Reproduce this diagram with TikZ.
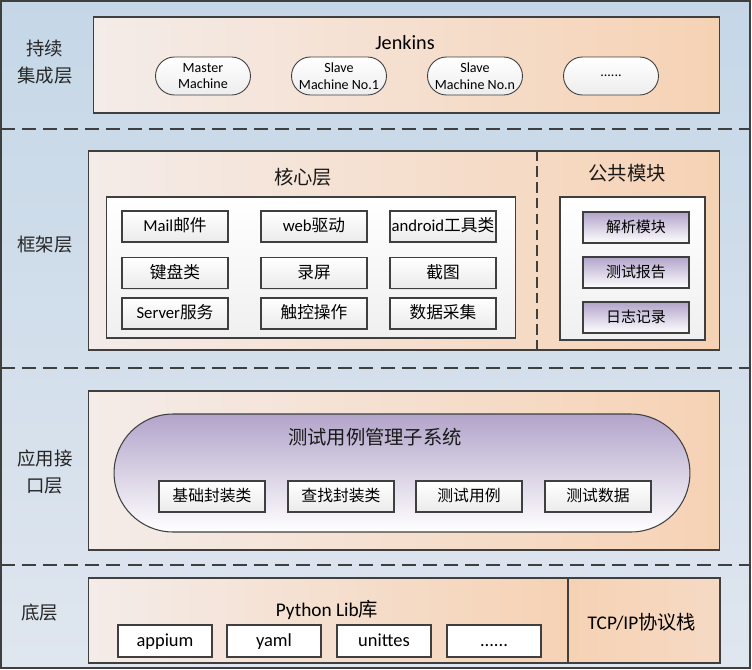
\documentclass[tikz,border=0pt]{standalone}
\usepackage{fontspec}
\setmainfont{Carlito}
\newfontfamily\cjk{Noto Sans CJK SC}
\usetikzlibrary{positioning,shadows}
\definecolor{bandtop}{HTML}{C5D7E7}
\definecolor{bandbot}{HTML}{DFE6EF}
\definecolor{peach}{HTML}{F6D2B4}
\definecolor{peachlt}{HTML}{F4ECE9}
\definecolor{lilac}{HTML}{B2A4CA}
\definecolor{edge}{HTML}{3F3F3F}

\begin{document}
\begin{tikzpicture}[x=0.02cm, y=-0.02cm,
  layerlbl/.style={align=center, font=\cjk\fontsize{10.5}{15}\selectfont, text=black!85},
  panel/.style={draw=edge, line width=0.6pt, left color=peachlt, right color=peach, inner sep=0pt},
  inner/.style={draw=edge, line width=0.6pt, top color=white, bottom color=black!6, inner sep=0pt},
  title/.style={font=\cjk\fontsize{11}{13}\selectfont, text=black!90},
  pill/.style={draw=edge, line width=0.5pt, rounded corners=0.38cm, top color=white, bottom color=black!7,
    minimum width=1.9cm, minimum height=0.76cm, align=center, font=\fontsize{8}{9.5}\selectfont, inner sep=0pt},
  btn/.style={draw=edge, line width=0.6pt, top color=white, bottom color=black!8, minimum width=2.12cm,
    minimum height=0.62cm, inner sep=0pt, text height=1.6ex, text depth=0.4ex, font=\fontsize{9.5}{11}\selectfont,
    drop shadow={shadow xshift=0.8pt, shadow yshift=-0.8pt, opacity=0.15}},
  pbtn/.style={btn, top color=lilac, bottom color=white},
  libbtn/.style={btn, minimum width=1.88cm, minimum height=0.64cm, top color=white, bottom color=white,
    font=\fontsize{10.5}{12}\selectfont},
  sep/.style={draw=edge, dashed, dash pattern=on 8pt off 4pt, line width=0.6pt}
]
\useasboundingbox (0,0) rectangle (752,670);
% background and layer separators
\shade[top color=bandtop, bottom color=bandbot] (1,1) rectangle (750,668);
\draw[sep] (1,129) -- (750,129);
\draw[sep] (1,368) -- (750,368);
\draw[sep] (1,565) -- (750,565);
\draw[edge, line width=0.8pt] (1,1) rectangle (750,668);

% 持续集成层
\node[layerlbl] (ci) at (45,62) {持续\\集成层};
\node[panel, minimum width=12.54cm, minimum height=1.92cm] (jenkins) at (406.5,65) {};
\node[font=\fontsize{11.5}{13}\selectfont] (jtitle) at (405,43) {Jenkins};
\node[pill] (master) at (203,76) {Master\\Machine};
\node[pill] (slave1) at (339,76) {Slave\\Machine No.1};
\node[pill] (slaven) at (475,76) {Slave\\Machine No.n};
\node[pill] (more) at (611,76) {......};

% 框架层
\node[layerlbl] (fw) at (45,245) {框架层};
\node[panel, minimum width=12.64cm, minimum height=3.98cm] (frame) at (404,250.5) {};
\draw[sep, dash pattern=on 6pt off 3pt] (frame.north -| 537,0) -- (frame.south -| 537,0);
\node[title] (core) at (303,177) {核心层};
\node[inner, minimum width=8.2cm, minimum height=2.82cm] (corebox) at (311,267.5) {};
\node[btn] (mail) at (175,226.5) {Mail{\cjk 邮件}};
\node[btn] (web) at (314,226.5) {web{\cjk 驱动}};
\node[btn] (android) at (443,226.5) {android{\cjk 工具类}};
\node[btn, font=\cjk\fontsize{9.5}{11}\selectfont] (keys) at (175,273) {键盘类};
\node[btn, font=\cjk\fontsize{9.5}{11}\selectfont] (record) at (314,273) {录屏};
\node[btn, font=\cjk\fontsize{9.5}{11}\selectfont] (shot) at (443,273) {截图};
\node[btn] (server) at (175,313.5) {Server{\cjk 服务}};
\node[btn, font=\cjk\fontsize{9.5}{11}\selectfont] (touch) at (314,313.5) {触控操作};
\node[btn, font=\cjk\fontsize{9.5}{11}\selectfont] (data) at (443,313.5) {数据采集};
\node[title] (common) at (627,173) {公共模块};
\node[inner, minimum width=2.9cm, minimum height=2.86cm] (commonbox) at (632.5,268.5) {};
\node[pbtn, font=\cjk\fontsize{8.5}{10}\selectfont] (parse) at (636,227.5) {解析模块};
\node[pbtn, font=\cjk\fontsize{8.5}{10}\selectfont] (report) at (636,272.5) {测试报告};
\node[pbtn, font=\cjk\fontsize{8.5}{10}\selectfont] (log) at (636,317.5) {日志记录};

% 应用接口层
\node[layerlbl] (api) at (45,472) {应用接\\口层};
\node[panel, minimum width=12.64cm, minimum height=3.18cm] (app) at (404,470.5) {};
\node[draw=edge, line width=0.6pt, rounded corners=1.18cm, top color=lilac, bottom color=white,
  minimum width=11.52cm, minimum height=2.36cm, inner sep=0pt] (suite) at (402,473) {};
\node[title] (suitetitle) at (375,437) {测试用例管理子系统};
\node[btn, font=\cjk\fontsize{9}{11}\selectfont] (basic) at (212,496.5) {基础封装类};
\node[btn, font=\cjk\fontsize{9}{11}\selectfont] (find) at (341,496.5) {查找封装类};
\node[btn, font=\cjk\fontsize{9}{11}\selectfont] (cases) at (469,496.5) {测试用例};
\node[btn, font=\cjk\fontsize{9}{11}\selectfont] (tdata) at (598,496.5) {测试数据};

% 底层
\node[layerlbl] (base) at (40,613) {底层};
\node[panel, minimum width=9.6cm, minimum height=1.7cm] (pylib) at (328,620.5) {};
\node[panel, left color=peach, right color=peach!70!peachlt, minimum width=3.04cm, minimum height=1.7cm] (tcp) at (644,620.5) {};
\node[font=\fontsize{11}{13}\selectfont] (pytitle) at (327,610) {Python Lib{\cjk 库}};
\node[font=\fontsize{11}{13}\selectfont] (tcptitle) at (642,622) {TCP/IP{\cjk 协议栈}};
\node[libbtn] (appium) at (165,641) {appium};
\node[libbtn] (yaml) at (274,641) {yaml};
\node[libbtn] (unit) at (384,641) {unittes};
\node[libbtn] (etc) at (494,641) {......};
\end{tikzpicture}
\end{document}
